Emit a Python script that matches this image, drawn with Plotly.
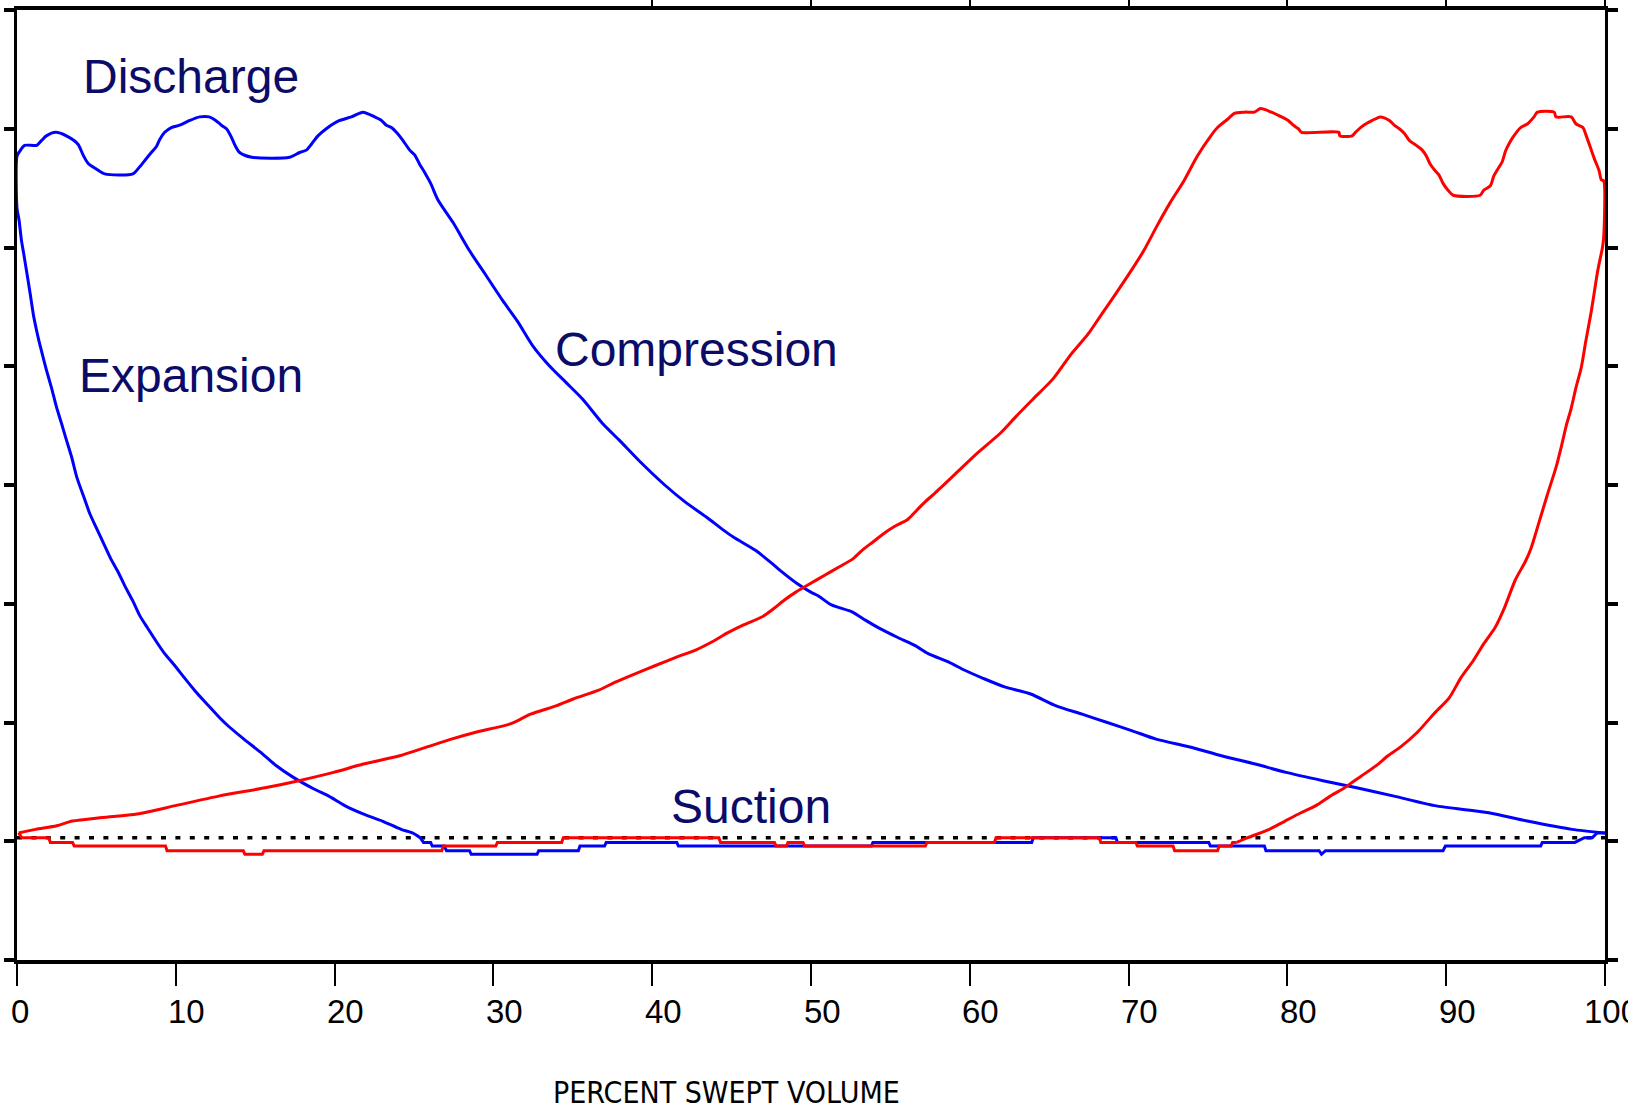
import plotly.graph_objects as go

# ---------------------------------------------------------------------------
# Pressure-volume loops of a double-acting cylinder.
# x: percent swept volume, y: pressure in grid divisions (suction line ~0).
# ---------------------------------------------------------------------------

# Head end (blue) -- compression stroke, from 100 % back toward 26 %
HE_COMP_X = [100.0, 97.92, 95.1, 92.68, 89.27, 86.72, 84.36, 82.24, 79.92, 77.97, 75.85, 74.0,
             71.73, 70.23, 68.66, 67.07, 65.44, 63.83, 62.19, 60.87, 59.68, 58.65, 57.38, 56.53,
             55.4, 54.35, 53.45, 52.61, 51.29, 50.42, 49.96, 49.12, 48.15, 47.54, 46.5, 45.13,
             44.49, 43.51, 42.05, 40.79, 39.21, 37.91, 36.86, 35.64, 34.6, 33.55, 32.49,
             31.51, 30.6, 29.56, 28.51, 27.46, 26.51]
HE_COMP_Y = [0.07, 0.10, 0.17, 0.24, 0.30, 0.38, 0.45, 0.51, 0.58, 0.65, 0.72, 0.79,
             0.86, 0.93, 1.00, 1.07, 1.14, 1.24, 1.30, 1.37, 1.44, 1.51, 1.58, 1.65,
             1.72, 1.79, 1.86, 1.93, 1.99, 2.07, 2.10, 2.17, 2.27, 2.34, 2.45, 2.56,
             2.62, 2.72, 2.86, 3.00, 3.20, 3.38, 3.52, 3.72, 3.86, 4.00, 4.17,
             4.38, 4.55, 4.76, 4.97, 5.21, 5.40]

# Head end -- discharge (valve flutter), 26 % down to 0 %
HE_DISCH_X = [26.05, 25.68, 25.36, 25.04, 24.73, 24.31, 23.89, 23.58, 23.26, 22.95, 22.52, 21.79,
              21.06, 20.32, 19.9, 19.58, 18.95, 18.54, 18.22, 17.8, 17.17, 14.78, 14.02, 13.77,
              13.46, 13.19, 12.87, 12.51, 12.1, 11.5, 10.88, 10.24, 9.72, 9.3, 8.99, 8.78,
              8.46, 8.15, 7.73, 7.3, 5.52, 5.0, 4.47, 4.16, 3.84, 3.11, 2.44, 1.85,
              1.54, 1.24, 0.48, 0.17, 0.0]
HE_DISCH_Y = [5.54, 5.63, 5.70, 5.78, 5.82, 5.90, 5.97, 6.01, 6.03, 6.07, 6.10, 6.14,
              6.10, 6.07, 6.04, 6.01, 5.94, 5.87, 5.82, 5.80, 5.76, 5.76, 5.80, 5.85,
              5.94, 6.00, 6.03, 6.07, 6.10, 6.10, 6.07, 6.03, 6.01, 5.97, 5.91, 5.85,
              5.80, 5.75, 5.68, 5.62, 5.62, 5.66, 5.71, 5.78, 5.87, 5.94, 5.97, 5.94,
              5.90, 5.86, 5.86, 5.81, 5.77]

# Head end -- re-expansion of clearance gas, 0 % out to 25 %
HE_EXP_X = [0.0, 0.13, 0.28, 0.42, 0.59, 0.76, 0.91, 1.05, 1.22, 1.37, 1.54, 1.85,
            2.17, 2.48, 2.8, 3.11, 3.43, 3.78, 4.26, 4.58, 5.1, 5.48, 5.9, 6.36,
            6.83, 7.27, 7.73, 8.25, 8.78, 9.3, 9.93, 10.52, 11.19, 11.93, 12.76, 13.39,
            14.29, 15.33, 16.29, 17.38, 18.7, 19.63, 20.64, 21.79, 23.0, 24.19, 24.9, 25.39]
HE_EXP_Y = [5.33, 5.23, 5.06, 4.95, 4.81, 4.67, 4.54, 4.42, 4.31, 4.22, 4.13, 3.97,
            3.82, 3.66, 3.52, 3.38, 3.24, 3.06, 2.88, 2.76, 2.61, 2.50, 2.38, 2.27,
            2.14, 2.03, 1.90, 1.79, 1.68, 1.58, 1.48, 1.38, 1.27, 1.16, 1.04, 0.96,
            0.86, 0.75, 0.64, 0.54, 0.44, 0.38, 0.30, 0.23, 0.17, 0.10, 0.07, 0.03]

# Head end -- suction, 25 % back to 100 %
HE_SUC_X = [25.6, 26.05, 26.15, 26.9, 27.05, 28.5, 28.6, 32.75, 32.85, 35.35, 35.45, 37.0,
            37.1, 41.55, 41.65, 53.8, 53.9, 63.9, 64.0, 69.2, 69.3, 75.05, 75.15, 78.55,
            78.65, 82.0, 82.15, 82.4, 89.8, 89.95, 95.95, 96.05, 98.1, 98.7, 99.2, 99.5]
HE_SUC_Y = [-0.01, -0.01, -0.04, -0.04, -0.08, -0.08, -0.11, -0.11, -0.08, -0.08, -0.04, -0.04,
            -0.01, -0.01, -0.04, -0.04, -0.01, -0.01, 0.03, 0.03, -0.01, -0.01, -0.04, -0.04,
            -0.08, -0.08, -0.11, -0.08, -0.08, -0.04, -0.04, -0.01, -0.01, 0.03, 0.03, 0.07]

# Crank end (red) -- compression stroke, 0 % up to 68 %
CE_COMP_X = [0.1, 1.18, 2.5, 3.49, 5.38, 7.57, 9.98, 12.7, 15.62, 17.75, 19.93, 21.82,
             24.1, 25.74, 27.35, 28.95, 31.11, 32.34, 33.94, 35.07, 36.59, 37.68, 38.92, 40.21,
             41.53, 42.73, 43.78, 44.68, 45.72, 46.93, 47.66, 48.31, 49.07, 49.96, 50.86, 51.76,
             52.66, 53.22, 53.9, 54.57, 55.25, 56.09, 56.68, 57.2, 57.79, 59.06, 60.32, 61.95,
             62.93, 63.96, 65.28, 66.37, 67.44, 68.36]
CE_COMP_Y = [0.07, 0.10, 0.13, 0.17, 0.20, 0.23, 0.30, 0.38, 0.45, 0.51, 0.58, 0.65,
             0.72, 0.79, 0.86, 0.92, 0.99, 1.07, 1.14, 1.20, 1.27, 1.34, 1.41, 1.48,
             1.55, 1.61, 1.68, 1.75, 1.82, 1.89, 1.96, 2.03, 2.10, 2.17, 2.24, 2.31,
             2.38, 2.45, 2.52, 2.59, 2.65, 2.71, 2.79, 2.86, 2.93, 3.09, 3.25, 3.44,
             3.58, 3.72, 3.90, 4.10, 4.27, 4.45]

# Crank end -- discharge (valve flutter), 69 % to 100 %
CE_DISCH_X = [69.24, 70.09, 70.94, 71.78, 72.63, 73.48, 74.33, 75.18, 75.6, 76.23, 76.66, 77.3,
              77.93, 78.31, 78.99, 79.63, 80.05, 80.37, 80.69, 80.9, 83.24, 83.3, 84.08, 84.29,
              84.61, 84.93, 85.35, 85.84, 86.42, 86.73, 87.05, 87.37, 87.69, 88.11, 88.49, 88.75,
              88.96, 89.28, 89.55, 89.8, 90.13, 90.44, 92.14, 92.35, 92.78, 92.99, 93.2, 93.52,
              93.73, 93.94, 94.26, 94.69, 95.11, 95.53, 95.74, 96.8, 96.91, 97.87, 98.18, 98.61,
              98.82, 99.14, 99.35, 99.62, 99.77, 99.92, 99.92]
CE_DISCH_Y = [4.62, 4.79, 4.97, 5.18, 5.38, 5.56, 5.77, 5.94, 6.01, 6.08, 6.13, 6.14,
              6.14, 6.17, 6.14, 6.10, 6.07, 6.03, 6.00, 5.97, 5.97, 5.94, 5.94, 5.97,
              6.01, 6.04, 6.07, 6.10, 6.07, 6.03, 6.00, 5.96, 5.90, 5.86, 5.82, 5.77,
              5.71, 5.65, 5.61, 5.54, 5.48, 5.44, 5.44, 5.48, 5.52, 5.60, 5.65, 5.72,
              5.81, 5.87, 5.94, 6.01, 6.04, 6.10, 6.14, 6.14, 6.10, 6.10, 6.04, 6.01,
              5.94, 5.82, 5.74, 5.65, 5.57, 5.56, 5.09]

# Crank end -- re-expansion, 100 % back to 77 %
CE_EXP_X = [99.84, 99.55, 99.12, 98.79, 98.49, 98.19, 97.86, 97.56, 97.28, 96.92, 96.35, 95.72,
            95.35, 95.0, 94.35, 93.68, 93.08, 92.4, 91.7, 90.94, 90.2, 89.2, 88.2, 87.09,
            86.33, 85.72, 84.99, 84.22, 83.6, 82.7, 81.79, 80.85, 79.85, 78.86, 77.5, 76.81]
CE_EXP_Y = [5.00, 4.81, 4.45, 4.21, 3.98, 3.83, 3.64, 3.50, 3.34, 3.15, 2.91, 2.63,
            2.47, 2.36, 2.20, 1.97, 1.80, 1.67, 1.52, 1.38, 1.21, 1.07, 0.92, 0.79,
            0.72, 0.65, 0.58, 0.51, 0.45, 0.38, 0.30, 0.24, 0.17, 0.10, 0.03, -0.01]

# Crank end -- suction, 77 % back to 0 %
CE_SUC_X = [76.55, 76.45, 75.7, 75.6, 72.9, 72.8, 70.55, 70.45, 68.25, 68.15, 61.65, 61.55,
            57.3, 57.2, 49.6, 49.5, 48.55, 48.45, 47.8, 47.7, 44.3, 44.2, 34.4, 34.3,
            30.25, 30.15, 26.85, 26.75, 15.55, 15.45, 14.35, 14.25, 9.45, 9.35, 3.6, 3.5,
            2.1, 2.0, 0.3]
CE_SUC_Y = [-0.01, -0.04, -0.04, -0.08, -0.08, -0.04, -0.04, -0.01, -0.01, 0.03, 0.03, -0.01,
            -0.01, -0.04, -0.04, -0.01, -0.01, -0.04, -0.04, -0.01, -0.01, 0.03, 0.03, -0.01,
            -0.01, -0.04, -0.04, -0.08, -0.08, -0.11, -0.11, -0.08, -0.08, -0.04, -0.04, -0.01,
            -0.01, 0.03, 0.03]

# Nominal suction pressure reference
SUCTION_LEVEL = 0.03

# Axis ticks and labels
X_TICKS = [0, 10, 20, 30, 40, 50, 60, 70, 80, 90, 100]
X_TICK_LABELS = ["0", "10", "20", "30", "40", "50", "60", "70", "80", "90", "100"]
X_TOP_TICKS = [40, 50, 60, 70, 80, 90, 100]
Y_TICKS = [-1, 0, 1, 2, 3, 4, 5, 6, 7]
X_TITLE = "PERCENT SWEPT VOLUME"

# Stage names written inside the plot
STAGE_TEXT = ["Discharge", "Expansion", "Compression", "Suction"]
STAGE_X = [4.0, 3.76, 33.75, 41.05]
STAGE_Y = [6.44, 3.925, 4.14, 0.295]

NAVY = "#0b0b68"
BLUE = "#0000ff"
RED = "#ff0000"
ARIAL = "Liberation Sans, Arial, sans-serif"
CONDENSED = "DejaVu Sans Condensed, Liberation Sans Narrow, DejaVu Sans, sans-serif"

fig = go.Figure()

# dotted suction reference (drawn first so both loops sit on top of it)
fig.add_trace(go.Scatter(
    x=[X_TICKS[0], X_TICKS[-1]], y=[SUCTION_LEVEL, SUCTION_LEVEL], mode="lines",
    line=dict(color="black", width=3.5, dash="5px,9.4px"),
    hoverinfo="skip", showlegend=False))


def add_loop(comp_x, comp_y, disch_x, disch_y, exp_x, exp_y, suc_x, suc_y, color, name):
    # suction stroke: flat, stepped trace
    fig.add_trace(go.Scatter(
        x=[exp_x[-1]] + suc_x + [comp_x[0]], y=[exp_y[-1]] + suc_y + [comp_y[0]],
        mode="lines", name=name, line=dict(color=color, width=3),
        hoverinfo="skip", showlegend=False))
    # compression, discharge and re-expansion: one smooth curve
    fig.add_trace(go.Scatter(
        x=comp_x + disch_x + exp_x, y=comp_y + disch_y + exp_y,
        mode="lines", name=name,
        line=dict(color=color, width=3, shape="spline", smoothing=0.7),
        showlegend=False))


add_loop(HE_COMP_X, HE_COMP_Y, HE_DISCH_X, HE_DISCH_Y, HE_EXP_X, HE_EXP_Y,
         HE_SUC_X, HE_SUC_Y, BLUE, "Head end")
add_loop(CE_COMP_X, CE_COMP_Y, CE_DISCH_X, CE_DISCH_Y, CE_EXP_X, CE_EXP_Y,
         CE_SUC_X, CE_SUC_Y, RED, "Crank end")

# empty trace on the top axis so its ticks are drawn
fig.add_trace(go.Scatter(x=[], y=[], xaxis="x2", yaxis="y", showlegend=False,
                         hoverinfo="skip"))

axis_common = dict(showgrid=False, zeroline=False, showticklabels=False,
                   tickcolor="black", linecolor="black", automargin=False)

fig.update_layout(
    width=1628, height=1113,
    margin=dict(l=17, r=23, t=10, b=153, pad=0, autoexpand=False),
    paper_bgcolor="white", plot_bgcolor="white",
    showlegend=False,
    xaxis=dict(range=[0, 100], tickvals=X_TICKS, ticks="outside", ticklen=22, tickwidth=2,
               showline=True, linewidth=4, mirror=True, layer="below traces", **axis_common),
    xaxis2=dict(range=[0, 100], overlaying="x", side="top", anchor="y",
                tickvals=X_TOP_TICKS, ticks="outside", ticklen=10, tickwidth=2,
                showline=False, **axis_common),
    yaxis=dict(range=[-1, 7], tickvals=Y_TICKS, ticks="outside", ticklen=10, tickwidth=4,
               showline=True, linewidth=3, mirror="ticks", layer="below traces", **axis_common),
)

for text, x, y in zip(STAGE_TEXT, STAGE_X, STAGE_Y):
    fig.add_annotation(x=x, y=y, xref="x", yref="y", text=text, showarrow=False,
                       xanchor="left", yanchor="middle",
                       font=dict(family=ARIAL, size=48, color=NAVY))

# tick labels sit just right of their tick, as on the original plotter output
label_shift = {1: 3, 2: 11, 3: 6}
for v, lab in zip(X_TICKS, X_TICK_LABELS):
    fig.add_annotation(x=v, y=0, xref="x", yref="paper", text=lab, showarrow=False,
                       xanchor="center", yanchor="middle",
                       xshift=label_shift[len(lab)], yshift=-51,
                       font=dict(family=ARIAL, size=33, color="black"))

fig.add_annotation(x=0.447, y=0, xref="paper", yref="paper", text=X_TITLE, showarrow=False,
                   xanchor="center", yanchor="middle", yshift=-132,
                   font=dict(family=CONDENSED, size=30, color="black"))

fig.write_html("out.html")
